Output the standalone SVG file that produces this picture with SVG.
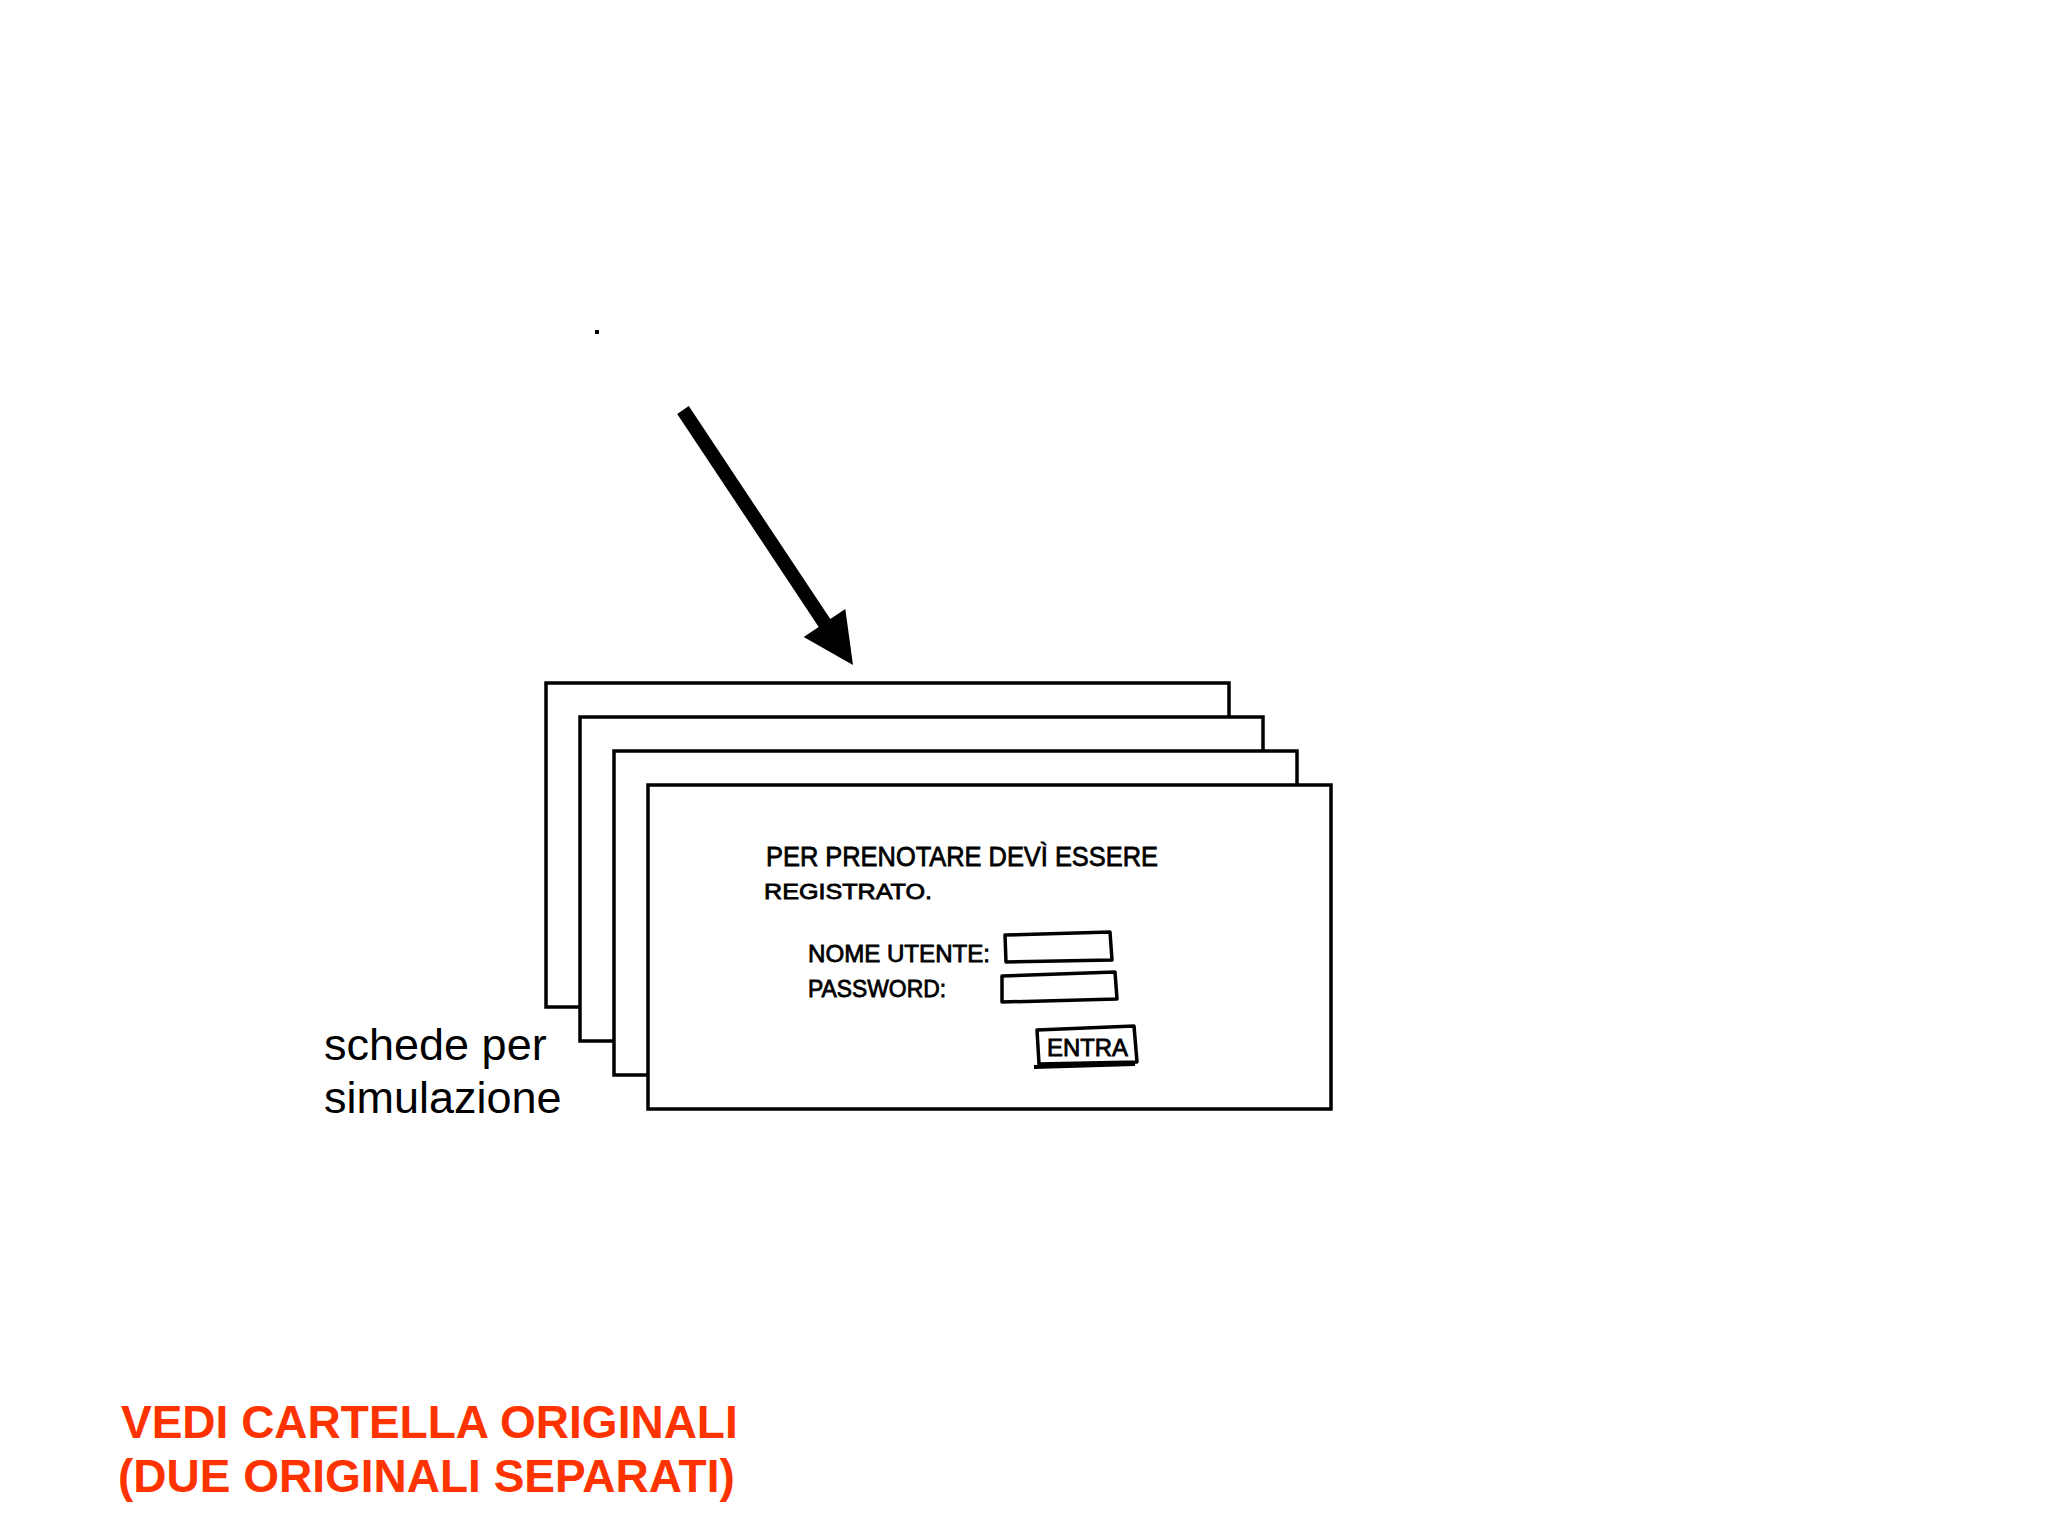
<svg xmlns="http://www.w3.org/2000/svg" width="2048" height="1536" viewBox="0 0 2048 1536">
<style>
.card{fill:#fff;stroke:#000;stroke-width:3.5}
.hand{font-family:"Liberation Sans",Arial,sans-serif;fill:#000;stroke:#000;stroke-width:0.8}
.field{fill:none;stroke:#000;stroke-width:3.5;stroke-linejoin:round}
.label{font-family:"Liberation Sans",Arial,sans-serif;font-size:45px;fill:#000}
.note{font-family:"Liberation Sans",Arial,sans-serif;font-size:46px;font-weight:bold;fill:#FF3300}
</style>
<rect width="2048" height="1536" fill="#fff"/>
<rect x="595" y="330" width="4" height="4" fill="#000"/>
<g id="connectors">
<polygon points="677.2,413.9 688.8,406.1 830.3,619.1 845.3,609.1 853,665 803.7,636.9 818.7,626.9" fill="#000"/>
</g>
<g id="card1"><rect class="card" x="546" y="683" width="683" height="324"/></g>
<g id="card2"><rect class="card" x="580" y="717" width="683" height="324"/></g>
<g id="card3"><rect class="card" x="614" y="751" width="683" height="324"/></g>
<g id="card4">
<rect class="card" x="648" y="785" width="683" height="324"/>
<text class="hand" x="766" y="866" font-size="28" textLength="392" lengthAdjust="spacingAndGlyphs">PER PRENOTARE DEVÌ ESSERE</text>
<text class="hand" x="764" y="899" font-size="22" textLength="168" lengthAdjust="spacingAndGlyphs">REGISTRATO.</text>
<text class="hand" x="808" y="962" font-size="24" textLength="182" lengthAdjust="spacingAndGlyphs">NOME UTENTE:</text>
<text class="hand" x="808" y="997" font-size="24" textLength="138" lengthAdjust="spacingAndGlyphs">PASSWORD:</text>
<polygon class="field" points="1005,935 1110,932 1112,960 1006,962"/>
<polygon class="field" points="1002,976 1115,972 1117,999 1002,1002"/>
<polygon class="field" points="1037,1030 1134,1026 1137,1062 1039,1064"/>
<line x1="1034" y1="1067" x2="1135" y2="1064" stroke="#000" stroke-width="4"/>
<text class="hand" x="1047" y="1056" font-size="24" textLength="81" lengthAdjust="spacingAndGlyphs">ENTRA</text>
</g>
<g id="caption">
<text class="label" x="324" y="1060">schede per</text>
<text class="label" x="324" y="1113">simulazione</text>
</g>
<g id="note">
<text class="note" x="121" y="1438">VEDI CARTELLA ORIGINALI</text>
<text class="note" x="118" y="1492">(DUE ORIGINALI SEPARATI)</text>
</g>
</svg>
